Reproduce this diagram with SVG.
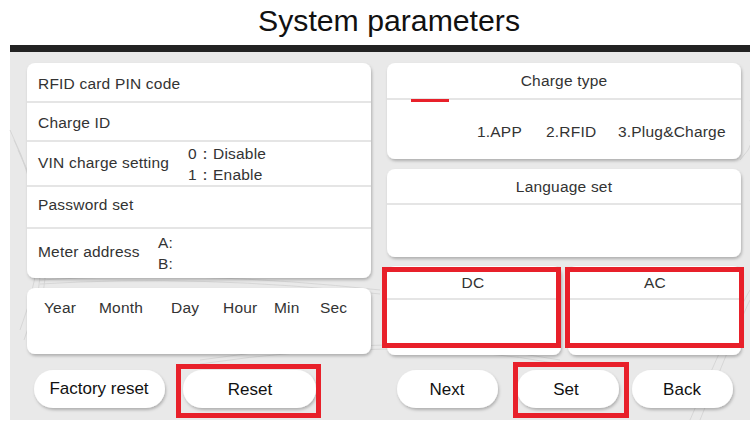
<svg xmlns="http://www.w3.org/2000/svg" width="750" height="421" viewBox="0 0 750 421">
<defs>
<style>
.t{font-family:"Liberation Sans",Arial,sans-serif;font-size:15.5px;letter-spacing:0.2px;fill:#333}
.b{font-family:"Liberation Sans",Arial,sans-serif;font-size:17px;fill:#111;text-anchor:middle}
.c{text-anchor:middle}
.panel{fill:#fff;filter:url(#sh)}
.div{stroke:#dcdcdc;stroke-width:1.5}
.btn{fill:#fff;filter:url(#sh)}
.red{fill:none;stroke:#e8202a;stroke-width:5}
.wave{fill:none;stroke:#d2d2d2;stroke-width:0.8}
</style>
<filter id="sh" x="-10%" y="-10%" width="120%" height="130%">
<feDropShadow dx="1" dy="2" stdDeviation="1.5" flood-color="#000" flood-opacity="0.25"/>
</filter>
</defs>
<rect width="750" height="421" fill="#fff"/>
<rect x="10" y="50" width="740" height="370" fill="#e9e9e9"/>
<g id="waves">
<path class="wave" d="M10 130 Q60 230 20 330"/>
<path class="wave" d="M14 140 Q64 240 24 340"/>
<path class="wave" d="M18 150 Q68 250 28 350"/>
<path class="wave" d="M40 280 Q200 270 380 290"/>
<path class="wave" d="M40 284 Q200 274 380 294"/>
<path class="wave" d="M200 360 Q400 330 560 360"/>
<path class="wave" d="M200 364 Q400 334 560 364"/>
<path class="wave" d="M700 420 Q740 320 750 300"/>
<path class="wave" d="M690 420 Q735 315 750 290"/>
<path class="wave" d="M740 160 Q760 140 750 120"/>
</g>
<rect x="10" y="45" width="740" height="7" fill="#222"/>
<text id="title" x="389" y="31" font-family="'Liberation Sans',Arial,sans-serif" font-size="29" fill="#111" text-anchor="middle" textLength="262" lengthAdjust="spacingAndGlyphs">System parameters</text>

<g id="left-panel">
<rect class="panel" x="27" y="63" width="344" height="215" rx="8"/>
<line class="div" x1="27" y1="102" x2="371" y2="102"/>
<line class="div" x1="27" y1="141" x2="371" y2="141"/>
<line class="div" x1="27" y1="186" x2="371" y2="186"/>
<line class="div" x1="27" y1="228" x2="371" y2="228"/>
<text class="t" x="38" y="89">RFID card PIN code</text>
<text class="t" x="38" y="128">Charge ID</text>
<text class="t" x="38" y="168">VIN charge setting</text>
<text class="t" x="188" y="159">0：Disable</text>
<text class="t" x="188" y="180">1：Enable</text>
<text class="t" x="38" y="210">Password set</text>
<text class="t" x="38" y="257">Meter address</text>
<text class="t" x="158" y="248">A:</text>
<text class="t" x="158" y="269">B:</text>
</g>

<g id="date-panel">
<rect class="panel" x="27" y="288" width="344" height="66" rx="8"/>
<text class="t" x="44" y="313">Year</text>
<text class="t" x="99" y="313">Month</text>
<text class="t" x="171" y="313">Day</text>
<text class="t" x="223" y="313">Hour</text>
<text class="t" x="274" y="313">Min</text>
<text class="t" x="320" y="313">Sec</text>
</g>

<g id="charge-type">
<rect class="panel" x="387" y="63" width="354" height="96" rx="8"/>
<line class="div" x1="387" y1="99" x2="741" y2="99"/>
<rect x="411" y="99" width="38" height="3" fill="#e8202a"/>
<text class="t c" x="564" y="86">Charge type</text>
<text class="t" x="477" y="137">1.APP</text>
<text class="t" x="546" y="137">2.RFID</text>
<text class="t" x="618" y="137">3.Plug&amp;Charge</text>
</g>

<g id="language-set">
<rect class="panel" x="387" y="169" width="354" height="88" rx="8"/>
<line class="div" x1="387" y1="204" x2="741" y2="204"/>
<text class="t c" x="564" y="192">Language set</text>
</g>

<g id="dc">
<rect class="panel" x="387" y="266" width="174" height="89" rx="8"/>
<line class="div" x1="387" y1="299" x2="561" y2="299"/>
<text class="t c" x="473" y="288">DC</text>
<rect class="red" x="384.5" y="269.5" width="174" height="76"/>
</g>

<g id="ac">
<rect class="panel" x="568" y="266" width="173" height="89" rx="8"/>
<line class="div" x1="568" y1="299" x2="741" y2="299"/>
<text class="t c" x="655" y="288">AC</text>
<rect class="red" x="567.5" y="269.5" width="174" height="76"/>
</g>

<g id="btn-factory">
<rect class="btn" x="34" y="370" width="131" height="38" rx="19"/>
<text class="b" x="99" y="394">Factory reset</text>
</g>
<g id="btn-reset">
<rect class="btn" x="183" y="370" width="133" height="38" rx="19"/>
<text class="b" x="250" y="395">Reset</text>
<rect class="red" x="178.5" y="366.5" width="140" height="49"/>
</g>
<g id="btn-next">
<rect class="btn" x="397" y="370" width="101" height="38" rx="19"/>
<text class="b" x="447" y="395">Next</text>
</g>
<g id="btn-set">
<rect class="btn" x="517" y="370" width="102" height="38" rx="19"/>
<text class="b" x="566" y="395">Set</text>
<rect class="red" x="515.5" y="364.5" width="111" height="51"/>
</g>
<g id="btn-back">
<rect class="btn" x="632" y="370" width="101" height="38" rx="19"/>
<text class="b" x="682" y="395">Back</text>
</g>
<g id="connectors"></g>
</svg>
